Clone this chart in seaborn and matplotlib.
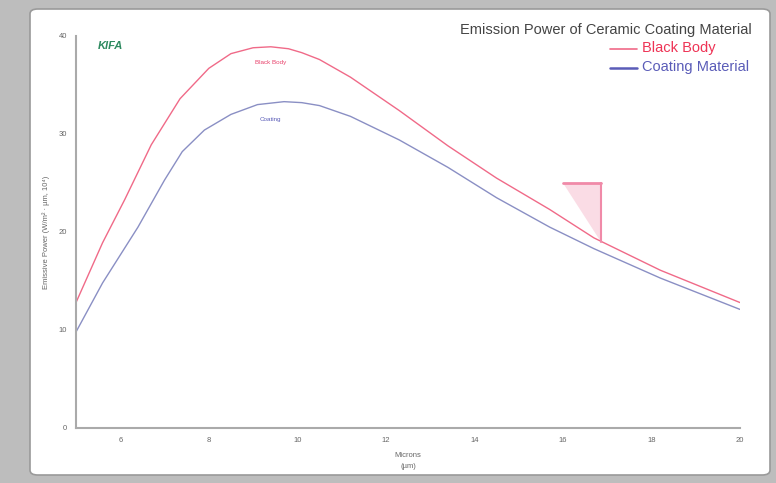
import pandas as pd
import seaborn as sns
import matplotlib.pyplot as plt
from matplotlib.patches import FancyBboxPatch, Polygon

# values
microns = [5.0, 5.6, 6.1, 6.7, 7.35, 8.0, 8.5, 9.0, 9.4, 9.8, 10.1, 10.5, 11.2, 12.3, 13.4, 14.5, 15.7, 16.7, 18.2, 20.0]
black_body = [12.8, 18.9, 23.3, 28.9, 33.6, 36.7, 38.2, 38.8, 38.9, 38.7, 38.3, 37.6, 35.8, 32.4, 28.8, 25.5, 22.3, 19.4, 16.1, 12.8]
coating_x = [5.0, 5.6, 6.4, 7.0, 7.4, 7.9, 8.5, 9.1, 9.7, 10.1, 10.5, 11.2, 12.3, 13.4, 14.5, 15.7, 16.7, 18.2, 20.0]
coating = [9.8, 14.8, 20.5, 25.3, 28.2, 30.4, 32.0, 33.0, 33.3, 33.2, 32.9, 31.8, 29.4, 26.6, 23.5, 20.5, 18.3, 15.3, 12.1]
x_ticks = [6, 8, 10, 12, 14, 16, 18, 20]
y_ticks = [0, 10, 20, 30, 40]

df = pd.concat([
    pd.DataFrame({'Microns': microns, 'Power': black_body, 'Series': 'Black Body'}),
    pd.DataFrame({'Microns': coating_x, 'Power': coating, 'Series': 'Coating Material'}),
])

red = '#f06a88'
blue = '#8a8fc4'

sns.set_style('white')
plt.rcParams['font.family'] = ['Liberation Sans', 'DejaVu Sans']
fig = plt.figure(figsize=(7.76, 4.83), dpi=100)
fig.patch.set_facecolor('#bdbdbd')

# white panel behind the chart
panel = FancyBboxPatch((30 / 776, 8 / 483), 740 / 776, 466 / 483,
                       boxstyle='round,pad=0,rounding_size=0.01',
                       transform=fig.transFigure, facecolor='white',
                       edgecolor='#9a9a9a', linewidth=1.2, zorder=-5)
fig.patches.append(panel)

ax = fig.add_axes([76 / 776, 55 / 483, 664 / 776, 392 / 483])
ax.set_facecolor('none')
ax.set_zorder(2)

sns.lineplot(data=df, x='Microns', y='Power', hue='Series',
             palette={'Black Body': red, 'Coating Material': blue},
             linewidth=1.0, ax=ax, legend=False, sort=False)

ax.set_xlim(5, 20)
ax.set_ylim(0, 40)
ax.set_xticks(x_ticks)
ax.set_yticks(y_ticks)
ax.tick_params(axis='both', labelsize=5.5, colors='#666666', length=3, width=0.8)
for side in ['top', 'right']:
    ax.spines[side].set_visible(False)
for side in ['left', 'bottom']:
    ax.spines[side].set_color('#aaaaaa')
    ax.spines[side].set_linewidth(1.5)

ax.set_xlabel('Microns\n(µm)', fontsize=5.5, color='#666666', labelpad=6, linespacing=1.8)
ax.set_ylabel('Emissive Power (W/m² · µm, 10⁴)', fontsize=5.5, color='#666666', labelpad=6)

# title and legend at top right
fig.text(752 / 776, 1 - 30 / 483, 'Emission Power of Ceramic Coating Material',
         ha='right', va='center', fontsize=10.5, color='#444444')
fig.text(642 / 776, 1 - 48 / 483, 'Black Body', ha='left', va='center', fontsize=10.5, color='#ee3355')
fig.text(642 / 776, 1 - 67 / 483, 'Coating Material', ha='left', va='center', fontsize=10.5, color='#5a5cb8')
fig.lines.append(plt.Line2D([610 / 776, 637 / 776], [1 - 49 / 483, 1 - 49 / 483],
                            transform=fig.transFigure, color=red, linewidth=1.2))
fig.lines.append(plt.Line2D([610 / 776, 637 / 776], [1 - 68 / 483, 1 - 68 / 483],
                            transform=fig.transFigure, color='#5a5cb8', linewidth=1.8))

# labels on the curves
ax.text(9.4, 37.3, 'Black Body', ha='center', va='center', fontsize=4.5, color='#e8406a')
ax.text(9.4, 31.5, 'Coating', ha='center', va='center', fontsize=4.5, color='#5a5cb8')

# logo
ax.text(5.5, 39.0, 'KIFA', ha='left', va='center', fontsize=8, color='#2e8a60',
        fontstyle='italic', fontweight='bold')

# pink flag marker
ax.add_patch(Polygon([[16.0, 25.0], [16.85, 25.0], [16.85, 19.0]], closed=True,
                     facecolor='#f7c6d4', edgecolor='none', alpha=0.6))
ax.plot([16.0, 16.85], [25.0, 25.0], color='#f08aa8', linewidth=2)
ax.plot([16.85, 16.85], [25.0, 19.0], color='#f08aa8', linewidth=1.5)

fig.savefig('out.png', dpi=100, facecolor=fig.get_facecolor())
